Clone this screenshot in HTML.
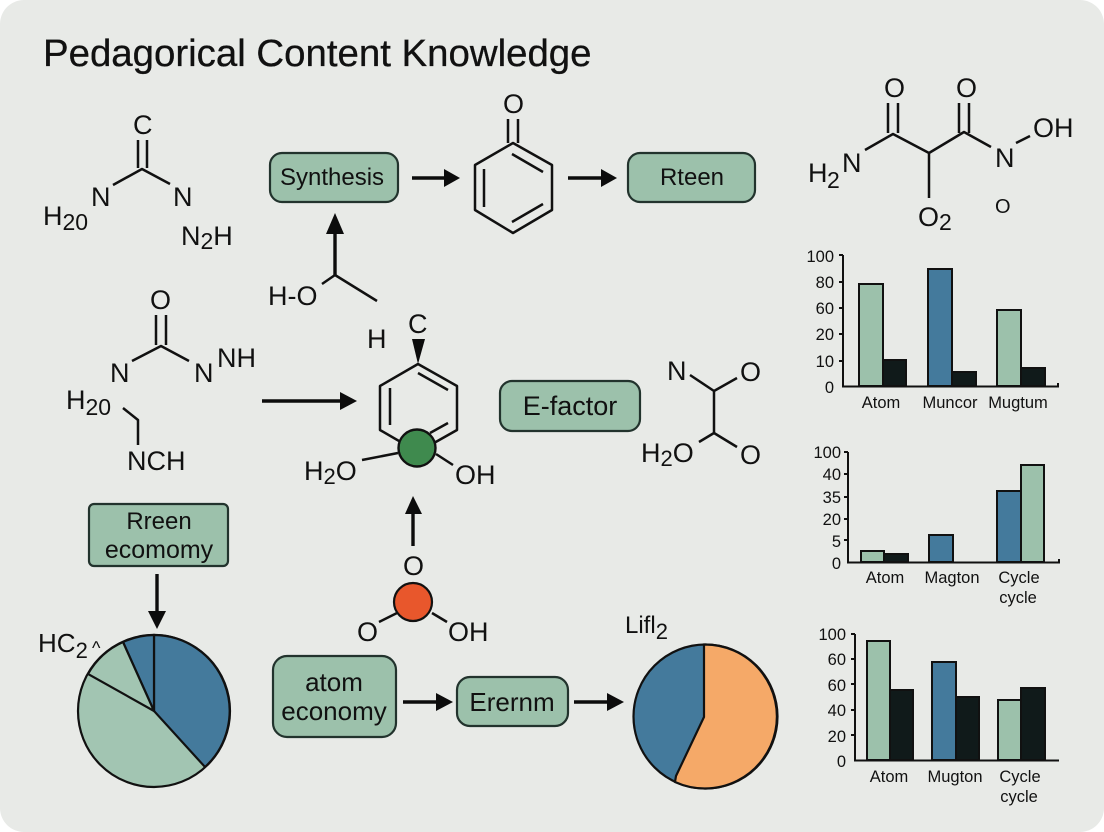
<!DOCTYPE html>
<html><head><meta charset="utf-8"><style>
html,body{margin:0;padding:0;background:#fff;width:1104px;height:832px;overflow:hidden}
svg{display:block}
text{font-family:"Liberation Sans",sans-serif;fill:#111}
.n{stroke:#111;stroke-width:2.5;fill:none;stroke-linecap:butt;stroke-linejoin:round}
.a{stroke:#0c0c0c;stroke-width:3.4;fill:none}
.h{fill:#0c0c0c;stroke:none}
.box{fill:#9cc1ab;stroke:#22332d;stroke-width:2.2}
.t{font-size:27px}
.l{font-size:16.5px;text-anchor:middle}
.k{font-size:16.5px;text-anchor:end}
.ax{stroke:#111;stroke-width:2;fill:none}
.g{fill:#9cc1ab;stroke:#111;stroke-width:2}
.b{fill:#447a9c;stroke:#111;stroke-width:2}
.d{fill:#101a1a;stroke:#111;stroke-width:2}
</style></head><body>
<svg width="1104" height="832" viewBox="0 0 1104 832" xmlns="http://www.w3.org/2000/svg">
<rect x="0" y="0" width="1104" height="832" rx="24" fill="#e8eae7"/>
<text x="43" y="66" font-size="38.400" stroke="#111" stroke-width="0.3">Pedagorical Content Knowledge</text>

<!-- top-left molecule -->
<path class="n" d="M138 140V168M147 140V168M113 185L142 169L170 184"/>
<text class="t" x="133" y="134">C</text><text class="t" x="91" y="206">N</text><text class="t" x="173" y="206">N</text>
<text class="t" x="43" y="225">H<tspan font-size="23" dy="5">20</tspan></text>
<text class="t" x="181" y="245">N<tspan font-size="23" dy="4">2</tspan><tspan dy="-4">H</tspan></text>

<!-- Synthesis row -->
<rect class="box" x="270" y="153" width="128" height="49" rx="12"/>
<text x="332" y="185" font-size="24" text-anchor="middle">Synthesis</text>
<path class="a" d="M412 178H445"/><path class="h" d="M460 178L444 169V187Z"/>
<path class="n" d="M513 143L552 165V210L513 233L475 210V165ZM484 169V207M512 154L543 172M512 222L543 204M508 119V143M518 119V143"/>
<text class="t" x="503" y="113">O</text>
<path class="a" d="M568 178H602"/><path class="h" d="M617 178L601 169V187Z"/>
<rect class="box" x="628" y="153" width="127" height="49" rx="12"/>
<text x="692" y="185" font-size="24" text-anchor="middle">Rteen</text>

<!-- HO -->
<path class="a" d="M335 275V232"/><path class="h" d="M335 213L326 234H344Z"/>
<path class="n" d="M322 284L335 275L377 301"/>
<text class="t" x="268" y="305">H-O</text>

<!-- top-right molecule -->
<path class="n" d="M888 103V133M898 103V133M865 150L893 134L929 153L964 132L991 147M959 103V133M969 103V133M929 153V198M1016 143L1030 136"/>
<text class="t" x="884" y="97">O</text><text class="t" x="956" y="97">O</text>
<text class="t" x="808" y="182">H</text><text x="827" y="188" font-size="23">2</text><text class="t" x="842" y="172">N</text>
<text class="t" x="995" y="167">N</text>
<text class="t" x="1033" y="137">OH</text>
<text class="t" x="918" y="226">O<tspan font-size="23" dy="4">2</tspan></text>
<text x="995" y="213" font-size="20">O</text>

<!-- middle-left molecule -->
<path class="n" d="M156 315V345M166 315V345M132 361L161 346L189 361"/>
<text class="t" x="150" y="309">O</text><text class="t" x="110" y="382">N</text><text class="t" x="194" y="382">N</text><text class="t" x="217" y="367">NH</text>
<text class="t" x="66" y="409">H<tspan font-size="23" dy="6">20</tspan></text>
<path class="n" d="M123 408L138 420V445"/>
<text class="t" x="127" y="470">NCH</text>

<path class="a" d="M262 401H341"/><path class="h" d="M357 401L340 392V410Z"/>

<!-- center molecule -->
<text class="t" x="367" y="348">H</text><text class="t" x="408" y="333">C</text>
<path class="h" d="M418 364L412 339H425Z"/>
<path class="n" d="M418 364L457 386V430L418 452L380 430V386ZM390 388V425M418 373L448 390M430 433L448 423"/>
<path class="n" d="M362 460L398 453M436 454L453 465"/>
<circle cx="417" cy="448" r="18.5" fill="#3f8a4e" stroke="#111" stroke-width="2.4"/>
<text class="t" x="304" y="480">H<tspan font-size="22" dy="4">2</tspan><tspan dy="-4">O</tspan></text>
<text class="t" x="455" y="484">OH</text>

<rect class="box" x="500" y="381" width="140" height="50" rx="12"/>
<text x="570" y="415" font-size="27" text-anchor="middle">E-factor</text>

<path class="n" d="M690 375L714 391L737 378M714 391V433L737 447M714 433L699 442"/>
<text class="t" x="667" y="380">N</text><text class="t" x="740" y="381">O</text>
<text class="t" x="641" y="462">H<tspan font-size="22" dy="4">2</tspan><tspan dy="-4">O</tspan></text>
<text class="t" x="740" y="464">O</text>

<!-- Rreen economy -->
<rect x="89" y="504" width="139" height="62" rx="5" fill="#9cc1ab" stroke="#22332d" stroke-width="2.2"/>
<text x="159" y="529" font-size="24" text-anchor="middle">Rreen</text>
<text x="159" y="558" font-size="25" text-anchor="middle">ecomomy</text>
<path class="a" d="M157 574V613"/><path class="h" d="M157 629L148 611H166Z"/>

<!-- Left pie -->
<text x="38" y="652" font-size="26">HC<tspan font-size="22" dy="6">2</tspan></text>
<text x="92" y="654" font-size="18">^</text>
<circle cx="154" cy="711" r="76" fill="#a2c5b2" stroke="#111" stroke-width="2.2"/>
<path d="M154 711L154 635A76 76 0 0 1 205 767Z" fill="#447a9c" stroke="#111" stroke-width="2.2"/>
<path d="M154 711L123 642A76 76 0 0 1 154 635Z" fill="#447a9c" stroke="#111" stroke-width="2.2"/>
<path d="M154 711L88 674A76 76 0 0 1 123 642Z" fill="#a2c5b2" stroke="#111" stroke-width="2.2"/>

<!-- Orange molecule -->
<path class="a" d="M413 546V512"/><path class="h" d="M413 496L405 514H422Z"/>
<text class="t" x="403" y="575">O</text>
<path class="n" d="M379 622L397 613M432 613L447 622"/>
<circle cx="413" cy="602" r="19" fill="#e8572c" stroke="#111" stroke-width="2.2"/>
<text class="t" x="357" y="641">O</text><text class="t" x="448" y="641">OH</text>

<!-- atom economy -->
<rect class="box" x="273" y="656" width="123" height="81" rx="14"/>
<text x="334" y="691" font-size="26" text-anchor="middle">atom</text>
<text x="334" y="720" font-size="26" text-anchor="middle">economy</text>
<path class="a" d="M403 702H437"/><path class="h" d="M453 702L436 693V711Z"/>
<rect class="box" x="457" y="677" width="111" height="49" rx="13"/>
<text x="512" y="711" font-size="26" text-anchor="middle">Erernm</text>
<path class="a" d="M574 702H608"/><path class="h" d="M624 702L607 693V711Z"/>

<!-- right pie -->
<text x="625" y="633" font-size="24">Lifl<tspan font-size="22" dy="6">2</tspan></text>
<circle cx="705.500" cy="716.500" r="72" fill="#447a9c" stroke="#111" stroke-width="2.2"/>
<path d="M704 644.500A72 72 0 1 1 675 782L676 776L704 717Z" fill="#f5a968" stroke="#111" stroke-width="2.2"/>

<!-- Chart 1 -->
<path class="ax" d="M843 255V386.500H1058V383M839 255H843M839 282H843M839 308H843M839 334H843M839 361H843"/>
<text class="k" x="834" y="262">100</text><text class="k" x="834" y="288">80</text><text class="k" x="834" y="314">60</text><text class="k" x="834" y="340">20</text><text class="k" x="834" y="367">10</text><text class="k" x="834" y="393">0</text>
<rect class="g" x="859" y="284" width="24" height="102"/><rect class="d" x="883" y="360" width="23" height="26"/>
<rect class="b" x="928" y="269" width="24" height="117"/><rect class="d" x="952" y="372" width="24" height="14"/>
<rect class="g" x="997" y="310" width="24" height="76"/><rect class="d" x="1021" y="368" width="24" height="18"/>
<text class="l" x="881" y="408">Atom</text><text class="l" x="950" y="408">Muncor</text><text class="l" x="1018" y="408">Mugtum</text>

<!-- Chart 2 -->
<path class="ax" d="M848 452V562.500H1059V559M844 452H848M844 474H848M844 497H848M844 519H848M844 540H848"/>
<text class="k" x="841" y="458">100</text><text class="k" x="841" y="480">40</text><text class="k" x="841" y="503">35</text><text class="k" x="841" y="525">20</text><text class="k" x="841" y="547">5</text><text class="k" x="841" y="569">0</text>
<rect class="g" x="861" y="551" width="23" height="11"/><rect class="d" x="884" y="554" width="24" height="8"/>
<rect class="b" x="929" y="535" width="24" height="27"/>
<rect class="b" x="997" y="491" width="24" height="71"/><rect class="g" x="1021" y="465" width="23" height="97"/>
<text class="l" x="885" y="583">Atom</text><text class="l" x="952" y="583">Magton</text><text class="l" x="1019" y="583">Cycle</text><text class="l" x="1018" y="603">cycle</text>

<!-- Chart 3 -->
<path class="ax" d="M855 634V760.500H1059M851 634H855M851 659H855M851 684H855M851 710H855M851 735H855"/>
<text class="k" x="846" y="640">100</text><text class="k" x="846" y="665">60</text><text class="k" x="846" y="691">60</text><text class="k" x="846" y="716">40</text><text class="k" x="846" y="742">20</text><text class="k" x="846" y="767">0</text>
<rect class="g" x="867" y="641" width="23" height="119"/><rect class="d" x="890" y="690" width="23" height="70"/>
<rect class="b" x="932" y="662" width="24" height="98"/><rect class="d" x="956" y="697" width="23" height="63"/>
<rect class="g" x="998" y="700" width="23" height="60"/><rect class="d" x="1021" y="688" width="24" height="72"/>
<text class="l" x="889" y="782">Atom</text><text class="l" x="955" y="782">Mugton</text><text class="l" x="1020" y="782">Cycle</text><text class="l" x="1019" y="802">cycle</text>
</svg>
</body></html>
